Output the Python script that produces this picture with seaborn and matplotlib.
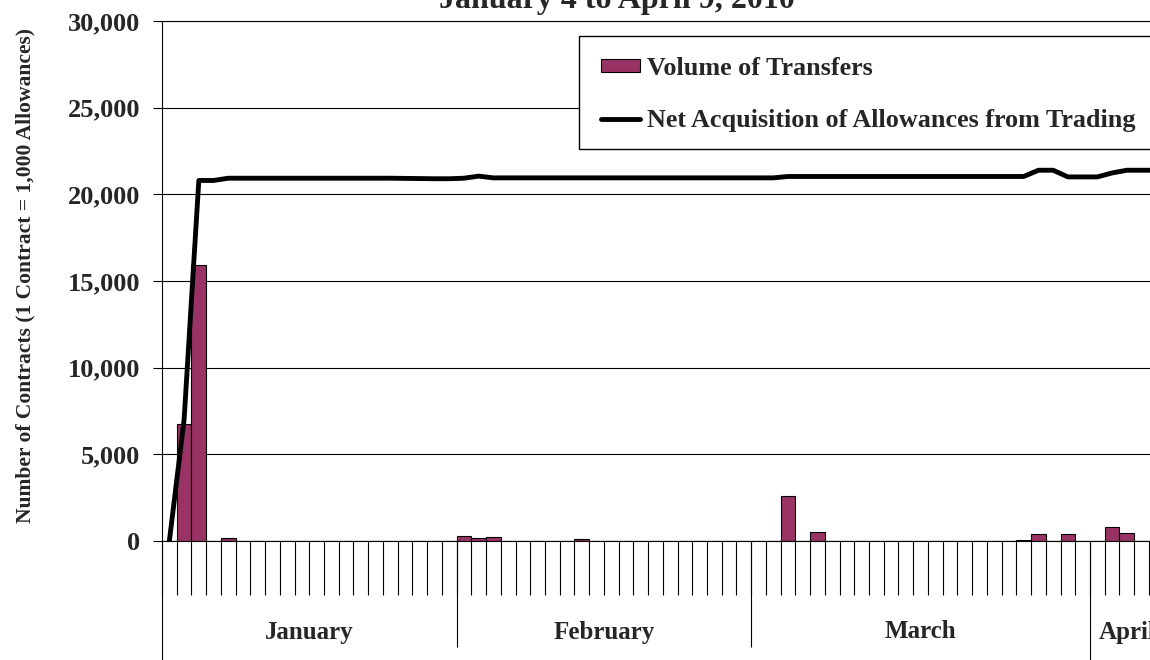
import numpy as np
import pandas as pd
import matplotlib
matplotlib.use("Agg")
import matplotlib.pyplot as plt
from matplotlib.patches import Patch, Rectangle
from matplotlib.lines import Line2D
from matplotlib.ticker import FuncFormatter, FixedLocator, NullLocator
import seaborn as sns

# trading days on the category axis (day of month)
jan_days = [4, 5, 6, 7, 8, 11, 12, 13, 14, 15, 18, 19, 20, 21, 22, 25, 26, 27, 28, 29]
feb_days = [1, 2, 3, 4, 5, 8, 9, 10, 11, 12, 15, 16, 17, 18, 19, 22, 23, 24, 25, 26]
mar_days = [1, 2, 3, 4, 5, 8, 9, 10, 11, 12, 15, 16, 17, 18, 19, 22, 23, 24, 25, 26, 29, 30, 31]
apr_days = [1, 5, 6, 7, 8]
month_names = ["January", "February", "March", "April"]

# Volume of Transfers (contracts per day)
vol_jan = [0, 6730, 15900, 0, 200, 0, 0, 0, 0, 0, 0, 0, 0, 0, 0, 0, 0, 0, 0, 0]
vol_feb = [290, 170, 210, 0, 0, 0, 0, 0, 100, 0, 0, 0, 0, 0, 0, 0, 0, 0, 0, 0]
vol_mar = [0, 0, 2610, 0, 500, 0, 0, 0, 0, 0, 0, 0, 0, 0, 0, 0, 0, 0, 60, 400, 0, 385, 0]
vol_apr = [0, 825, 440, 0, 0]

# Net acquisition of allowances from trading
net_jan = [0, 7000, 20800, 20800, 20930, 20930, 20930, 20930, 20930, 20930,
           20930, 20930, 20930, 20930, 20930, 20930, 20920, 20910, 20900, 20900]
net_feb = [20930, 21050, 20950, 20950, 20950, 20950, 20950, 20950, 20950, 20950,
           20950, 20950, 20950, 20950, 20950, 20950, 20950, 20950, 20950, 20950]
net_mar = [20950, 20950, 21030, 21030, 21030, 21030, 21030, 21030, 21030, 21030,
           21030, 21030, 21030, 21030, 21030, 21030, 21030, 21030, 21030, 21390,
           21390, 21005, 21005]
net_apr = [21005, 21235, 21390, 21390, 21390]

month_days = [jan_days, feb_days, mar_days, apr_days]
labels = []
for name, days in zip(month_names, month_days):
    labels += [f"{name[:3]} {d}" for d in days]

df = pd.DataFrame({
    "day": labels,
    "volume": vol_jan + vol_feb + vol_mar + vol_apr,
    "net": net_jan + net_feb + net_mar + net_apr,
})
n = len(df)

sns.set_style("white")
plt.rcParams["font.family"] = ["Liberation Serif", "DejaVu Serif"]
plt.rcParams["font.weight"] = "bold"
plt.rcParams["axes.labelweight"] = "bold"

W, H = 1150, 660
fig = plt.figure(figsize=(11.5, 6.6), dpi=100)
ax_left, ax_top, ax_bottom = 162, 21, 541
ax_w = 68 * 14.73
ax = fig.add_axes([ax_left / W, 1 - ax_bottom / H, ax_w / W, (ax_bottom - ax_top) / H])

sns.barplot(data=df, x="day", y="volume", order=labels, color="#993366", saturation=1,
            width=1.0, edgecolor="black", linewidth=0.8, ax=ax)
sns.lineplot(data=df, x="day", y="net", sort=False, color="black", linewidth=3.5, ax=ax)

ax.set_xlim(-0.5, n - 0.5)
ax.set_ylim(0, 30000)
ax.set_yticks(range(0, 30001, 5000))
ax.yaxis.set_major_formatter(FuncFormatter(lambda v, p: f"{v:,.0f}"))
ax.yaxis.grid(True, color="black", linewidth=0.8)
ax.set_axisbelow(True)

for side in ["left", "bottom", "top"]:
    ax.spines[side].set_color("black")
    ax.spines[side].set_linewidth(0.8)
ax.spines["right"].set_visible(False)

ax.tick_params(axis="y", length=6.5, width=0.8, color="black", pad=9, labelsize=19, left=True)
ax.xaxis.set_major_locator(NullLocator())
ax.xaxis.set_minor_locator(FixedLocator(np.arange(n + 1) - 0.5))
ax.tick_params(axis="x", which="minor", length=39, width=0.8, color="black", direction="out", bottom=True)
ax.set_xlabel("")
ax.set_ylabel("Number of Contracts (1 Contract = 1,000 Allowances)", fontsize=15.5)
ax.yaxis.set_label_coords(-(ax_left - 35) / ax_w, 0.51)

# month group separators and labels under the category ticks
xtrans = ax.get_xaxis_transform()
bounds = np.cumsum([0] + [len(d) for d in month_days]) - 0.5
ax.vlines([bounds[0], bounds[3]], -0.26, 0, transform=xtrans, color="black", lw=0.8, clip_on=False)
ax.vlines([bounds[1], bounds[2]], -(647 - ax_bottom) / (ax_bottom - ax_top), 0,
          transform=xtrans, color="black", lw=0.8, clip_on=False)
for i, name in enumerate(month_names):
    ax.text((bounds[i] + bounds[i + 1]) / 2, -(632 - ax_bottom) / (ax_bottom - ax_top), name,
            transform=xtrans, ha="center", va="center", fontsize=18, fontweight="bold")

# legend with a box running off the right edge
box = Rectangle((579 / W, 1 - 149 / H), (1175 - 579) / W, (149 - 36) / H, transform=fig.transFigure,
                facecolor="white", edgecolor="black", lw=1, zorder=4.5, clip_on=False)
ax.add_patch(box)
handles = [Patch(facecolor="#993366", edgecolor="black", lw=0.8, label="Volume of Transfers"),
           Line2D([], [], color="black", lw=3.5, label="Net Acquisition of Allowances from Trading")]
leg = ax.legend(handles=handles, loc="upper left", bbox_to_anchor=(601 / W, 1 - 57 / H),
                bbox_transform=fig.transFigure, frameon=False, fontsize=18.8, borderpad=0,
                borderaxespad=0, handlelength=1.5, handleheight=0.4, handletextpad=0.25,
                labelspacing=1.1)
leg.set_zorder(5)

fig.text(617 / W, 1 - 8 / H, "January 4 to April 9, 2010", ha="center", va="baseline",
         fontsize=23, fontweight="bold")

fig.savefig("out.png", dpi=100)
